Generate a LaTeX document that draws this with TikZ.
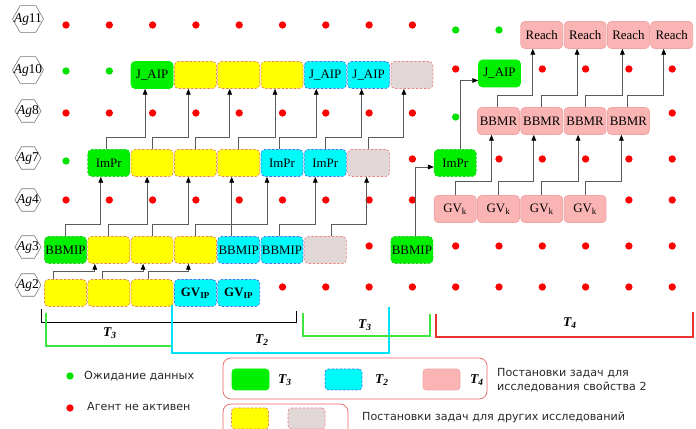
\documentclass[tikz,border=0pt]{standalone}
\usepackage{fontspec}
\setmainfont{Liberation Serif}
\newfontfamily\legendfont{DejaVu Sans}
\usetikzlibrary{shapes.geometric, arrows.meta, calc}
\definecolor{mygreen}{RGB}{0,240,0}
\definecolor{mygreenln}{RGB}{40,200,40}
\definecolor{myyellow}{RGB}{255,255,0}
\definecolor{myyellowln}{RGB}{240,130,80}
\definecolor{mycyan}{RGB}{0,250,250}
\definecolor{mycyanln}{RGB}{80,110,240}
\definecolor{mygray}{RGB}{225,215,215}
\definecolor{mygrayln}{RGB}{240,130,130}
\definecolor{mypink}{RGB}{250,180,180}
\definecolor{mypinkln}{RGB}{240,165,165}
\definecolor{myred}{RGB}{255,0,0}
\definecolor{mydotgreen}{RGB}{0,225,0}
\definecolor{mywire}{RGB}{90,90,90}
\definecolor{myframe}{RGB}{235,100,100}
\definecolor{hexline}{RGB}{120,120,120}
\definecolor{brgreen}{RGB}{60,230,60}
\definecolor{brcyan}{RGB}{0,225,250}
\definecolor{brred}{RGB}{235,50,50}
\definecolor{legtext}{RGB}{40,40,40}
\tikzset{
  box/.style={rectangle, rounded corners=0.12cm, minimum width=1.26cm,
    minimum height=0.81cm, inner sep=0pt, line width=0.6pt,
    font=\fontsize{11}{13}\selectfont},
  legbox/.style={rectangle, rounded corners=0.1cm, minimum width=1.11cm,
    minimum height=0.63cm, inner sep=0pt, line width=0.6pt},
  grn/.style={fill=mygreen, draw=mygreen},
  grnd/.style={fill=mygreen, draw=mygreenln, dash pattern=on 2pt off 1.5pt},
  ylw/.style={fill=myyellow, draw=myyellowln, dash pattern=on 2pt off 1.5pt},
  cyn/.style={fill=mycyan, draw=mycyanln, dash pattern=on 2pt off 1.5pt},
  gry/.style={fill=mygray, draw=mygrayln, dash pattern=on 2pt off 1.5pt},
  pnk/.style={fill=mypink, draw=mypinkln},
  hexbig/.style={regular polygon, regular polygon sides=6, draw=hexline,
    line width=0.5pt, minimum size=0.93cm, inner sep=0pt},
  hexsmall/.style={hexbig, minimum size=0.78cm},
  hextext/.style={font=\fontsize{11.5}{13}\selectfont, inner sep=0pt},
  arrow/.style={-{Triangle[length=5pt, width=4pt, color=black]},
    line width=0.7pt, color=mywire},
  brace/.style={line width=0.9pt},
  tlabel/.style={font=\fontsize{11.5}{13}\selectfont\bfseries\itshape},
  legend/.style={font=\legendfont\fontsize{9.5}{12}\selectfont, text=legtext,
    anchor=west, align=left, inner sep=0pt}
}

\begin{document}
\begin{tikzpicture}[x=0.03cm, y=0.03cm]
  \useasboundingbox (0,0) rectangle (696,429);

  % agent labels
  \foreach \n/\y/\s in {11/410/hexbig, 10/359/hexbig, 8/318/hexsmall,
      7/271/hexsmall, 4/229/hexsmall, 3/182/hexsmall, 2/144/hexsmall}
    \node[\s, label={[hextext]center:\textit{Ag}\n}] (h\n) at (28,\y) {};

  % inactive agents
  \foreach \i in {0,...,8} \fill[myred] ({66+43.3*\i},404) circle (0.11cm);
  \foreach \i in {9,11,12,13,14} \fill[myred] ({66+43.3*\i},360) circle (0.11cm);
  \foreach \i in {0,...,8,14} \fill[myred] ({66+43.3*\i},316) circle (0.11cm);
  \foreach \i in {8,10,11,12,13,14} \fill[myred] ({66+43.3*\i},270) circle (0.11cm);
  \foreach \i in {0,...,8,13,14} \fill[myred] ({66+43.3*\i},229) circle (0.11cm);
  \foreach \i in {7,9,10,11,12,13,14} \fill[myred] ({66+43.3*\i},183) circle (0.11cm);
  \foreach \i in {5,...,14} \fill[myred] ({66+43.3*\i},142) circle (0.11cm);
  % waiting agents
  \foreach \i in {9,10} \fill[mydotgreen] ({66+43.3*\i},399) circle (0.11cm);
  \foreach \i in {0,1} \fill[mydotgreen] ({66+43.3*\i},358) circle (0.11cm);
  \fill[mydotgreen] ({66+43.3*9},312) circle (0.11cm);
  \fill[mydotgreen] (66,268) circle (0.11cm);

  % Ag10
  \foreach \i/\st/\txt in {2/grn/J\_AIP, 3/ylw/{}, 4/ylw/{}, 5/ylw/{},
      6/cyn/J\_AIP, 7/cyn/J\_AIP, 8/gry/{}}
    \node[box, \st] (ag10-\i) at ({65.5+43.3*\i},354) {\txt};
  \node[box, grn] (ag10-10) at (499.5,355.5) {J\_AIP};
  % Ag7
  \foreach \i/\st/\txt in {1/grnd/ImPr, 2/ylw/{}, 3/ylw/{}, 4/ylw/{},
      5/cyn/ImPr, 6/cyn/ImPr, 7/gry/{}, 9/grnd/ImPr}
    \node[box, \st] (ag7-\i) at ({65.5+43.3*\i},266) {\txt};
  % Ag3
  \foreach \i/\st/\txt in {0/grnd/BBMIP, 1/ylw/{}, 2/ylw/{}, 3/ylw/{},
      4/cyn/BBMIP, 5/cyn/BBMIP, 6/gry/{}, 8/grnd/BBMIP}
    \node[box, \st] (ag3-\i) at ({65.5+43.3*\i},179) {\txt};
  % Ag2
  \foreach \i/\st/\txt in {0/ylw/{}, 1/ylw/{}, 2/ylw/{},
      3/cyn/\textbf{GV\textsubscript{IP}}, 4/cyn/\textbf{GV\textsubscript{IP}}}
    \node[box, \st] (ag2-\i) at ({65.5+43.3*\i},136) {\txt};
  % property 2 chain
  \foreach \i in {9,...,12}
    \node[box, pnk] (ag4-\i) at ({65.5+43.3*\i},220) {GV\textsubscript{k}};
  \foreach \i in {10,...,13}
    \node[box, pnk] (ag8-\i) at ({65.5+43.3*\i},308) {BBMR};
  \foreach \i in {11,...,14}
    \node[box, pnk] (ag11-\i) at ({65.5+43.3*\i},394) {Reach};

  % data flow
  \foreach \s/\t/\a/\b in {ag2-0/ag3-1/-12/-14, ag2-1/ag3-2/-6/-9, ag2-2/ag3-3/-4/-7}
    \draw[arrow] ([shift={(\a,0)}]\s.north) -- ++(0,8) -| ([shift={(\b,0)}]\t.south);
  \foreach \s/\t/\a/\b in {ag3-0/ag7-1/0/-8, ag3-1/ag7-2/0/-5, ag3-2/ag7-3/0/-7,
      ag3-3/ag7-5/0/-15, ag3-4/ag7-4/-7/-7, ag3-5/ag7-6/-3/-10, ag3-6/ag7-7/6/-2}
    \draw[arrow] ([shift={(\a,0)}]\s.north) -- ++(0,12) -| ([shift={(\b,0)}]\t.south);
  \foreach \s/\t/\a/\b in {ag7-1/ag10-2/-2/-7, ag7-2/ag10-3/0/-7, ag7-3/ag10-4/0/-9,
      ag7-4/ag10-5/0/-7, ag7-5/ag10-6/-3/-9, ag7-6/ag10-7/0/-7, ag7-7/ag10-8/0/-8}
    \draw[arrow] ([shift={(\a,0)}]\s.north) -- ++(0,12) -| ([shift={(\b,0)}]\t.south);
  \foreach \s/\t/\b in {ag4-9/ag8-10/-7, ag4-10/ag8-11/-8, ag4-11/ag8-12/-7, ag4-12/ag8-13/-7}
    \draw[arrow] (\s.north) -- ++(0,14) -| ([shift={(\b,0)}]\t.south);
  \foreach \s/\t/\a/\b in {ag8-10/ag11-11/-1/-9, ag8-11/ag11-12/0/-8,
      ag8-12/ag11-13/0/-6, ag8-13/ag11-14/-1/-8}
    \draw[arrow] ([shift={(\a,0)}]\s.north) -- ++(0,12) -| ([shift={(\b,0)}]\t.south);
  \draw[arrow] ([shift={(4,0)}]ag3-8.north) |- ([shift={(0,-4)}]ag7-9.west);
  \draw[arrow] ([shift={(5,0)}]ag7-9.north) |- ([shift={(0,-7)}]ag10-10.west);

  % time intervals
  \draw[brace, black, line width=0.6pt] (41,120) |- (296,107) -- (296,118);
  \draw[brace, brgreen] (46,116) |- (173,83);
  \draw[brace, brcyan] (172,124) |- (389,76) -- (389,122);
  \draw[brace, brgreen] (303,116) |- (430,93) -- (430,115);
  \draw[brace, brred] (436,115) |- (693,92) -- (693,117);
  \node[tlabel] (t3a) at (110,96) {T\textsubscript{3}};
  \node[tlabel] (t2) at (262,89) {T\textsubscript{2}};
  \node[tlabel] (t3b) at (365,104) {T\textsubscript{3}};
  \node[tlabel] (t4) at (570,106) {T\textsubscript{4}};

  % legend
  \fill[mydotgreen] (70,53) circle (0.11cm);
  \node[legend] (lwait) at (84,53) {Ожидание данных};
  \fill[myred] (70,21) circle (0.11cm);
  \node[legend] (lidle) at (87,22) {Агент не активен};
  \draw[myframe, line width=0.6pt, rounded corners=0.24cm] (223,30) rectangle (487,71);
  \node[legbox, grn] (kgrn) at (250.5,49.5) {};
  \node[tlabel] (kt3) at (285,49) {T\textsubscript{3}};
  \node[legbox, cyn] (kcyn) at (343.5,49.5) {};
  \node[tlabel] (kt2) at (382,49) {T\textsubscript{2}};
  \node[legbox, pnk] (kpnk) at (441.5,49.5) {};
  \node[tlabel] (kt4) at (477,49) {T\textsubscript{4}};
  \node[legend] (lprop) at (497,48.5) {Постановки задач для\\исследования свойства 2};
  \draw[myframe, line width=0.6pt, rounded corners=0.24cm] (223,-12) rectangle (348,25);
  \node[legbox, ylw] (kylw) at (250,10.5) {};
  \node[legbox, gry] (kgry) at (306.5,10.5) {};
  \node[legend] (lother) at (362,12) {Постановки задач для других исследований};
\end{tikzpicture}
\end{document}
